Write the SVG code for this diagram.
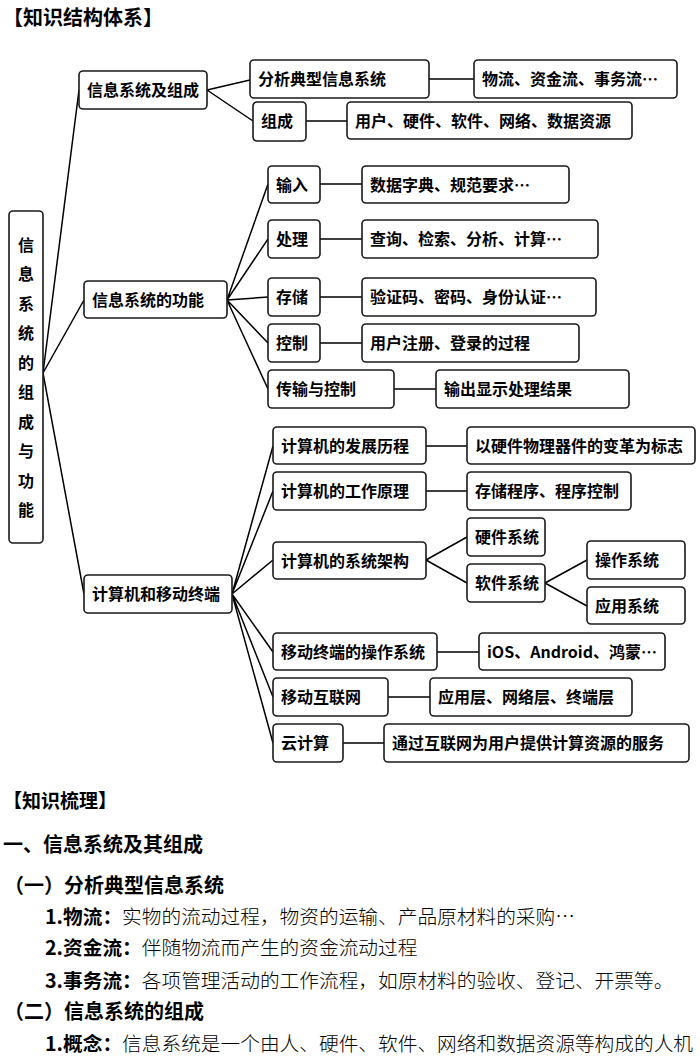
<svg xmlns="http://www.w3.org/2000/svg" width="700" height="1060" viewBox="0 0 700 1060">
<style>
.box{fill:#fff;stroke:#1a1a1a;stroke-width:1.6}
.t{font-family:"Noto Sans CJK SC","Noto Sans",sans-serif;font-weight:bold;font-size:16px;fill:#000}
.c{stroke:#000;stroke-width:1.5;fill:none}
.h{font-family:"Noto Sans CJK SC",sans-serif;font-weight:bold;fill:#000}
.p{font-family:"Noto Sans CJK SC",sans-serif;font-size:19.7px;fill:#000}
.b{font-weight:bold}
.r{font-weight:300}
</style>
<rect width="700" height="1060" fill="#fff"/>
<text class="h" x="3" y="25" font-size="20">【知识结构体系】</text>

<g id="connectors">
<path class="c" d="M43,373 L79,90 M43,373 L84,300 M43,373 L84,594"/>
<path class="c" d="M207,90 L250,80 M207,90 L253,121 M429,79 L474,79 M306,121 L347,121"/>
<path class="c" d="M227,300 L268,184 M227,300 L268,239 M227,300 L268,297 M227,300 L268,343 M227,300 L268,389"/>
<path class="c" d="M320,184 L362,184 M320,239 L362,239 M320,297 L362,297 M320,343 L362,343 M394,389 L436,389"/>
<path class="c" d="M232,594 L273,446 M232,594 L273,491 M232,594 L273,560 M232,594 L273,652 M232,594 L273,697 M232,594 L273,743"/>
<path class="c" d="M426,446 L467,446 M426,491 L467,491 M426,560 L467,537 M426,560 L467,583 M545,583 L587,560 M545,583 L587,606 M437,652 L479,652 M388,697 L430,697 M343,743 L384,743"/>
</g>

<g id="root">
<rect class="box" x="9" y="211" width="34" height="332" rx="4"/>
<g class="t" text-anchor="middle">
<text x="26" y="251">信</text><text x="26" y="280">息</text><text x="26" y="310">系</text><text x="26" y="339">统</text><text x="26" y="369">的</text><text x="26" y="398">组</text><text x="26" y="428">成</text><text x="26" y="457">与</text><text x="26" y="487">功</text><text x="26" y="516">能</text>
</g>
</g>

<g id="n1"><rect class="box" x="79" y="71" width="128" height="38" rx="4"/><text class="t" x="87" y="96">信息系统及组成</text></g>
<g id="n1a"><rect class="box" x="250" y="60" width="179" height="38" rx="4"/><text class="t" x="258" y="85">分析典型信息系统</text></g>
<g id="n1a1"><rect class="box" x="474" y="60" width="203" height="38" rx="4"/><text class="t" x="482" y="85">物流、资金流、事务流…</text></g>
<g id="n1b"><rect class="box" x="253" y="102" width="53" height="39" rx="4"/><text class="t" x="261" y="127">组成</text></g>
<g id="n1b1"><rect class="box" x="347" y="102" width="285" height="37" rx="4"/><text class="t" x="355" y="127">用户、硬件、软件、网络、数据资源</text></g>

<g id="n2"><rect class="box" x="84" y="281" width="143" height="37" rx="4"/><text class="t" x="92" y="306">信息系统的功能</text></g>
<g id="n2a"><rect class="box" x="268" y="166" width="52" height="37" rx="4"/><text class="t" x="276" y="191">输入</text></g>
<g id="n2b"><rect class="box" x="268" y="220" width="52" height="38" rx="4"/><text class="t" x="276" y="245">处理</text></g>
<g id="n2c"><rect class="box" x="268" y="278" width="52" height="38" rx="4"/><text class="t" x="276" y="303">存储</text></g>
<g id="n2d"><rect class="box" x="268" y="324" width="52" height="38" rx="4"/><text class="t" x="276" y="349">控制</text></g>
<g id="n2e"><rect class="box" x="268" y="370" width="126" height="38" rx="4"/><text class="t" x="276" y="395">传输与控制</text></g>
<g id="n2a1"><rect class="box" x="362" y="166" width="207" height="37" rx="4"/><text class="t" x="370" y="191">数据字典、规范要求…</text></g>
<g id="n2b1"><rect class="box" x="362" y="220" width="236" height="38" rx="4"/><text class="t" x="370" y="245">查询、检索、分析、计算…</text></g>
<g id="n2c1"><rect class="box" x="362" y="278" width="234" height="38" rx="4"/><text class="t" x="370" y="303">验证码、密码、身份认证…</text></g>
<g id="n2d1"><rect class="box" x="362" y="324" width="217" height="38" rx="4"/><text class="t" x="370" y="349">用户注册、登录的过程</text></g>
<g id="n2e1"><rect class="box" x="436" y="370" width="193" height="38" rx="4"/><text class="t" x="444" y="395">输出显示处理结果</text></g>

<g id="n3"><rect class="box" x="84" y="575" width="148" height="38" rx="4"/><text class="t" x="92" y="600">计算机和移动终端</text></g>
<g id="n3a"><rect class="box" x="273" y="427" width="153" height="37" rx="4"/><text class="t" x="281" y="452">计算机的发展历程</text></g>
<g id="n3b"><rect class="box" x="273" y="472" width="153" height="38" rx="4"/><text class="t" x="281" y="497">计算机的工作原理</text></g>
<g id="n3c"><rect class="box" x="273" y="542" width="153" height="37" rx="4"/><text class="t" x="281" y="567">计算机的系统架构</text></g>
<g id="n3d"><rect class="box" x="273" y="633" width="164" height="37" rx="4"/><text class="t" x="281" y="658">移动终端的操作系统</text></g>
<g id="n3e"><rect class="box" x="273" y="678" width="115" height="38" rx="4"/><text class="t" x="281" y="703">移动互联网</text></g>
<g id="n3f"><rect class="box" x="273" y="724" width="70" height="38" rx="4"/><text class="t" x="281" y="749">云计算</text></g>
<g id="n3a1"><rect class="box" x="467" y="427" width="228" height="37" rx="4"/><text class="t" x="475" y="452">以硬件物理器件的变革为标志</text></g>
<g id="n3b1"><rect class="box" x="467" y="472" width="164" height="38" rx="4"/><text class="t" x="475" y="497">存储程序、程序控制</text></g>
<g id="n3c1"><rect class="box" x="467" y="518" width="78" height="38" rx="4"/><text class="t" x="475" y="543">硬件系统</text></g>
<g id="n3c2"><rect class="box" x="467" y="564" width="78" height="38" rx="4"/><text class="t" x="475" y="589">软件系统</text></g>
<g id="n3c21"><rect class="box" x="587" y="541" width="98" height="38" rx="4"/><text class="t" x="595" y="566">操作系统</text></g>
<g id="n3c22"><rect class="box" x="587" y="587" width="98" height="37" rx="4"/><text class="t" x="595" y="612">应用系统</text></g>
<g id="n3d1"><rect class="box" x="479" y="633" width="186" height="37" rx="4"/><text class="t" x="487" y="658">iOS、Android、鸿蒙…</text></g>
<g id="n3e1"><rect class="box" x="430" y="678" width="202" height="38" rx="4"/><text class="t" x="438" y="703">应用层、网络层、终端层</text></g>
<g id="n3f1"><rect class="box" x="384" y="724" width="305" height="38" rx="4"/><text class="t" x="392" y="749">通过互联网为用户提供计算资源的服务</text></g>

<text class="h" x="3" y="808" font-size="19">【知识梳理】</text>
<text class="h" x="3" y="852" font-size="20">一、信息系统及其组成</text>
<text class="h" x="4" y="893" font-size="20">（一）分析典型信息系统</text>
<text class="p" x="45" y="924"><tspan class="b">1.物流：</tspan><tspan class="r">实物的流动过程，物资的运输、产品原材料的采购…</tspan></text>
<text class="p" x="45" y="955"><tspan class="b">2.资金流：</tspan><tspan class="r">伴随物流而产生的资金流动过程</tspan></text>
<text class="p" x="45" y="988"><tspan class="b">3.事务流：</tspan><tspan class="r">各项管理活动的工作流程，如原材料的验收、登记、开票等。</tspan></text>
<text class="h" x="4" y="1019" font-size="20">（二）信息系统的组成</text>
<text class="p" x="45" y="1051"><tspan class="b">1.概念：</tspan><tspan class="r">信息系统是一个由人、硬件、软件、网络和数据资源等构成的人机</tspan></text>
</svg>
